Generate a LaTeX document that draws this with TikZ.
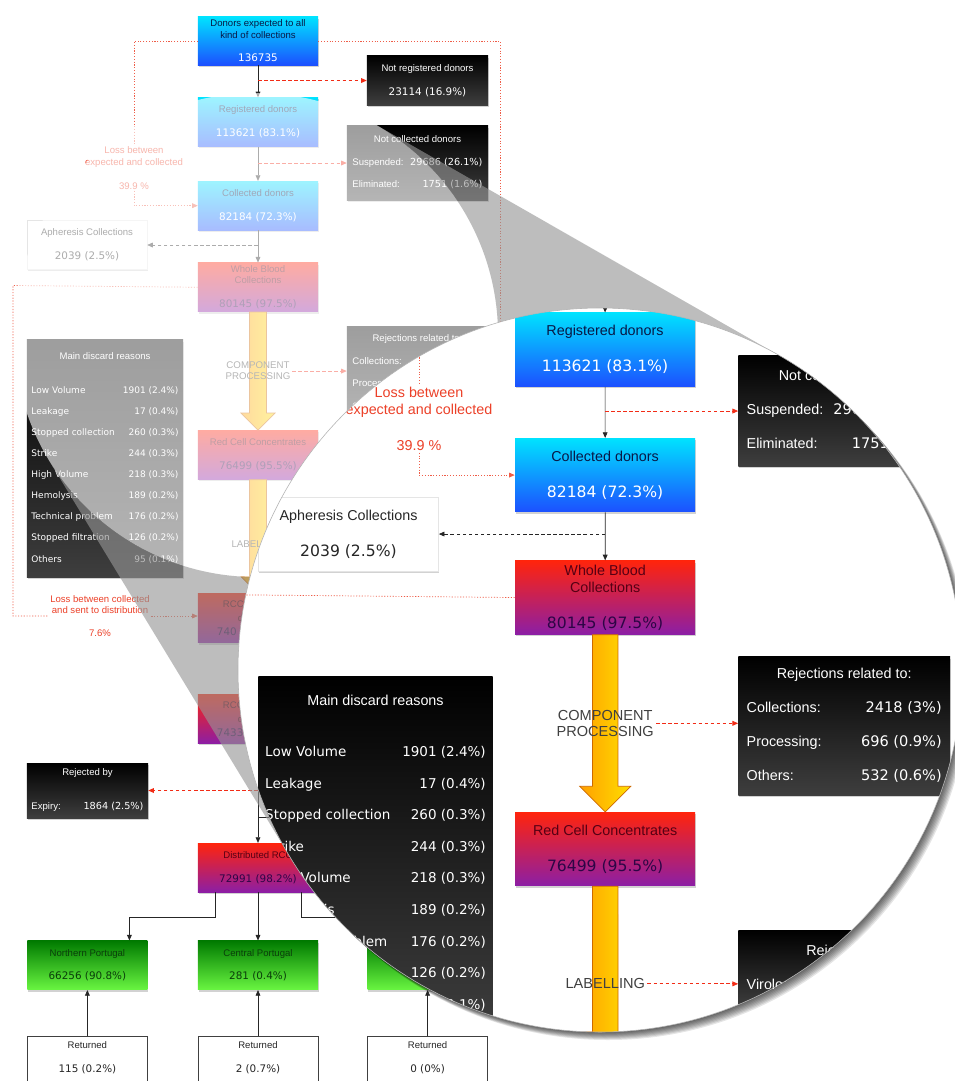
\documentclass[tikz,border=0pt]{standalone}
\usepackage{fontspec}
\newfontfamily\labfont{Liberation Sans}
\newfontfamily\numfont{DejaVu Sans}
\usetikzlibrary{positioning,calc,shadows,arrows.meta}

\definecolor{boxcyan}{RGB}{0,226,255}
\definecolor{boxblue}{RGB}{28,80,255}
\definecolor{boxnavy}{RGB}{8,24,70}
\definecolor{boxred}{RGB}{255,36,12}
\definecolor{boxpurple}{RGB}{140,30,165}
\definecolor{boxwine}{RGB}{85,0,20}
\definecolor{boxplum}{RGB}{45,5,70}
\definecolor{greentop}{RGB}{0,122,0}
\definecolor{greenbot}{RGB}{105,245,65}
\definecolor{greentext}{RGB}{10,62,10}
\definecolor{blackbot}{RGB}{62,62,62}
\definecolor{lossred}{RGB}{236,64,40}
\definecolor{rejred}{RGB}{242,44,22}
\definecolor{arroworange}{RGB}{255,160,0}
\definecolor{arrowyellow}{RGB}{255,222,0}
\definecolor{arrowedge}{RGB}{205,105,0}
\definecolor{conegray}{RGB}{150,150,150}

\colorlet{numcol}{black}
\newcommand{\boxnum}[1]{{\numfont\fontsize{7.4}{8}\selectfont\color{numcol}#1}}
\newcommand{\tabnum}[1]{{\numfont\fontsize{6.9}{8}\selectfont\color{numcol}#1}}
\newcommand{\discrow}[2]{{\numfont\fontsize{6.4}{8}\selectfont #1} & {\numfont\fontsize{6.4}{8}\selectfont #2}}

\tikzset{
	flowbox/.style={rectangle, minimum width=3cm, minimum height=1.225cm, inner sep=1pt, align=center, font=\labfont\fontsize{6.8}{8}\selectfont, drop shadow={opacity=0.35, shadow xshift=0.5pt, shadow yshift=-1.3pt}},
	bluebox/.style={flowbox, top color=boxcyan, bottom color=boxblue, text=boxnavy, execute at begin node=\colorlet{numcol}{white}},
	redbox/.style={flowbox, top color=boxred, bottom color=boxpurple, text=boxwine, execute at begin node=\colorlet{numcol}{boxplum}},
	greenbox/.style={flowbox, top color=greentop, bottom color=greenbot, text=greentext, execute at begin node=\colorlet{numcol}{greentext}},
	blackbox/.style={flowbox, top color=black, bottom color=blackbot, text=white, execute at begin node=\colorlet{numcol}{white}},
	whitebox/.style={flowbox, fill=white, draw=black!10, line width=0.3pt, text=black!85, execute at begin node=\colorlet{numcol}{black!85}},
	returnbox/.style={rectangle, draw=black!75, fill=white, line width=0.5pt, minimum width=3cm, minimum height=1.4cm, inner sep=1pt, align=center, font=\labfont\fontsize{6.8}{8}\selectfont, text=black!85, execute at begin node=\colorlet{numcol}{black!85}},
	losstext/.style={align=center, text=lossred, font=\labfont\fontsize{6.8}{8}\selectfont, inner sep=1pt},
	steplabel/.style={align=center, text=black!75, font=\labfont\fontsize{6.9}{7.8}\selectfont, inner sep=1pt},
	flowline/.style={draw=black!85, line width=0.5pt, -{Triangle[length=4pt, width=3.4pt]}},
	stubline/.style={draw=black!85, line width=0.5pt},
	rejline/.style={draw=rejred, line width=0.55pt, dash pattern=on 2.5pt off 1.8pt, -{Triangle[length=4pt, width=3.4pt]}},
	apherline/.style={rejline, draw=black!85},
	lossline/.style={draw=lossred!85, line width=0.5pt, dash pattern=on 0.8pt off 1.2pt},
	lossarrow/.style={lossline, -{Triangle[length=4pt, width=3.4pt]}},
	bigarrow/.style={draw=arrowedge, line width=0.5pt, left color=arroworange, right color=arrowyellow},
}

\newcommand{\flowchart}[1]{%
	\node[bluebox, minimum height=1.2cm] (#1donors) at (258,41) {Donors expected to all\\kind of collections\\[9pt]\boxnum{136735}};
	\node[bluebox, below=0.8cm of #1donors] (#1reg) {Registered donors\\[9pt]\boxnum{113621 (83.1\%)}};
	\node[bluebox, below=0.85cm of #1reg] (#1col) {Collected donors\\[9pt]\boxnum{82184 (72.3\%)}};
	\node[redbox, below=0.8cm of #1col] (#1whole) {Whole Blood\\Collections\\[9pt]\boxnum{80145 (97.5\%)}};
	\node[redbox, below=2.95cm of #1whole] (#1redcell) {Red Cell Concentrates\\[9pt]\boxnum{76499 (95.5\%)}};
	\node[redbox, below=2.85cm of #1redcell] (#1rcca) {\makebox[1.75cm][l]{RCC}\\[2pt]\makebox[1cm][l]{d}\\[2pt]\makebox[2.05cm][l]{\boxnum{740}}};
	\node[redbox, below=1.275cm of #1rcca] (#1rccb) {\makebox[1.75cm][l]{RCC}\\[2pt]\makebox[1cm][l]{d}\\[2pt]\makebox[2.05cm][l]{\boxnum{7433}}};
	\node[redbox, below=2.475cm of #1rccb] (#1distrib) {Distributed RCC\\[9pt]\boxnum{72991 (98.2\%)}};
	\node[greenbox, below=1.2cm of #1distrib] (#1central) {Central Portugal\\[9pt]\boxnum{281 (0.4\%)}};
	\node[greenbox, left=1.25cm of #1central] (#1north) {Northern Portugal\\[9pt]\boxnum{66256 (90.8\%)}};
	\node[greenbox, right=1.225cm of #1central] (#1south) {};
	\node[returnbox, below=1.15cm of #1north] (#1retnorth) {Returned\\[9pt]\boxnum{115 (0.2\%)}\\[2pt]\mbox{}};
	\node[returnbox, below=1.15cm of #1central] (#1retcentral) {Returned\\[9pt]\boxnum{2 (0.7\%)}\\[2pt]\mbox{}};
	\node[returnbox, below=1.15cm of #1south] (#1retsouth) {Returned\\[9pt]\boxnum{0 (0\%)}\\[2pt]\mbox{}};
	%
	\node[blackbox, minimum width=3.025cm] (#1notreg) at (427.5,80.5) {Not registered donors\\[9pt]\boxnum{23114 (16.9\%)}};
	\node[blackbox, minimum width=3.525cm, minimum height=1.85cm] (#1notcol) at (417.5,163) {\begin{tabular*}{3.25cm}{@{}l@{\extracolsep{\fill}}r@{}}\multicolumn{2}{c}{Not collected donors}\\[8pt]Suspended: & \tabnum{29686 (26.1\%)}\\[8pt]Eliminated: & \tabnum{1751 (1.6\%)}\end{tabular*}};
	\node[whitebox] (#1apher) at (87,245) {Apheresis Collections\\[9pt]\boxnum{2039 (2.5\%)}};
	\node[blackbox, minimum width=3.525cm, minimum height=2.3cm] (#1rejrel) at (417.5,373) {\begin{tabular*}{3.25cm}{@{}l@{\extracolsep{\fill}}r@{}}\multicolumn{2}{c}{Rejections related to:}\\[8pt]Collections: & \tabnum{2418 (3\%)}\\[8pt]Processing: & \tabnum{696 (0.9\%)}\\[8pt]Others: & \tabnum{532 (0.6\%)}\end{tabular*}};
	\node[blackbox, minimum width=3.9cm, minimum height=5.925cm] (#1discard) at (105,458.5) {\begin{tabular*}{3.675cm}{@{}l@{\extracolsep{\fill}}r@{}}\multicolumn{2}{c}{Main discard reasons}\\[16pt]\discrow{Low Volume}{1901 (2.4\%)}\\[7pt]\discrow{Leakage}{17 (0.4\%)}\\[7pt]\discrow{Stopped collection}{260 (0.3\%)}\\[7pt]\discrow{Strike}{244 (0.3\%)}\\[7pt]\discrow{High Volume}{218 (0.3\%)}\\[7pt]\discrow{Hemolysis}{189 (0.2\%)}\\[7pt]\discrow{Technical problem}{176 (0.2\%)}\\[7pt]\discrow{Stopped filtration}{126 (0.2\%)}\\[7pt]\discrow{Others}{95 (0.1\%)}\end{tabular*}};
	\node[blackbox, minimum width=3.525cm, minimum height=1.3cm] (#1rejlab) at (417.5,535) {\begin{tabular*}{3.25cm}{@{}l@{\extracolsep{\fill}}r@{}}\multicolumn{2}{c}{Rejected by}\\[8pt]Virology: & \end{tabular*}};
	\node[blackbox, minimum width=3.025cm, minimum height=1.375cm] (#1rejexp) at (87.5,790.5) {\begin{tabular*}{2.8cm}{@{}l@{\extracolsep{\fill}}r@{}}\multicolumn{2}{c}{Rejected by}\\[16pt]Expiry: & \tabnum{1864 (2.5\%)}\end{tabular*}};
	\node[losstext] (#1lossa) at (134,168) {Loss between\\expected and collected\\[9pt]39.9 \%};
	\node[losstext] (#1lossb) at (100,616) {Loss between collected\\and sent to distribution\\[8pt]7.6\%};
	\coordinate (#1lossturn) at (13,285.5);
	\coordinate (#1lossend) at (500,720);
	\coordinate (#1stub) at (330,817);
	%
	\draw[flowline] (#1donors) -- (#1reg);
	\draw[flowline] (#1reg) -- (#1col);
	\draw[flowline] (#1col) -- (#1whole);
	\draw[flowline] (#1rcca) -- (#1rccb);
	\draw[flowline] (#1rccb) -- (#1distrib);
	\draw[stubline] (#1stub) -- (#1stub -| #1distrib);
	\draw[flowline] (#1distrib) -- (#1central);
	\draw[flowline] ($(#1distrib.south)+(-43,0)$) -- ++(0,25) -| ($(#1north.north)+(42,0)$);
	\draw[flowline] ($(#1distrib.south)+(43,0)$) -- ++(0,25) -| ($(#1south.north)+(-42,0)$);
	\draw[flowline] (#1retnorth) -- (#1north);
	\draw[flowline] (#1retcentral) -- (#1central);
	\draw[flowline] (#1retsouth) -- (#1south);
	\draw[rejline] (#1notreg.west -| #1reg) -- (#1notreg.west);
	\draw[rejline] (#1notcol.west -| #1reg) -- (#1notcol.west);
	\draw[apherline] (#1apher.east -| #1col) -- (#1apher.east);
	\draw[rejline] (#1rejexp.east -| #1distrib) -- (#1rejexp.east);
	\draw[lossline] (#1donors.west) -| (#1lossa.north);
	\draw[lossarrow] (#1lossa.south) |- (#1col.west);
	\draw[lossline] (#1donors.east) -| (#1lossend);
	\draw[lossline] (#1whole.west) -- (#1lossturn) |- (#1lossb.west);
	\draw[lossarrow] (#1lossb.east) -- (#1lossb.east -| #1rcca.west);
	\draw[bigarrow] ($(#1whole.south)+(-8.5,0)$) -- ($(#1redcell.north)+(-8.5,-17)$) -- ($(#1redcell.north)+(-17,-17)$) -- (#1redcell.north) -- ($(#1redcell.north)+(17,-17)$) -- ($(#1redcell.north)+(8.5,-17)$) -- ($(#1whole.south)+(8.5,0)$) -- cycle;
	\draw[bigarrow] ($(#1redcell.south)+(-8.5,0)$) -- ($(#1rcca.north)+(-8.5,-17)$) -- ($(#1rcca.north)+(-17,-17)$) -- (#1rcca.north) -- ($(#1rcca.north)+(17,-17)$) -- ($(#1rcca.north)+(8.5,-17)$) -- ($(#1redcell.south)+(8.5,0)$) -- cycle;
	\node[steplabel] (#1proc) at ($(#1whole.south)!0.5!(#1redcell.north)$) {COMPONENT\\PROCESSING};
	\node[steplabel] (#1lab) at ($(#1redcell.south)!0.57!(#1rcca.north)$) {LABELLING};
	\draw[rejline] (#1proc.east) -- (#1proc.east -| #1rejrel.west);
	\draw[rejline] (#1lab.east) -- (#1lab.east -| #1rejlab.west);
}

\begin{document}
\begin{tikzpicture}[x=0.025cm, y=-0.025cm]
	\useasboundingbox (0,0) rectangle (955,1081);
	\fill[white] (0,0) rectangle (955,1081);
	\flowchart{s}
	\coordinate (lensS) at (256,335);
	\coordinate (lensC) at (600,670);
	\coordinate (coneA) at (376.2,125);
	\coordinate (coneB) at (779.8,355.8);
	\coordinate (coneC) at (290.7,858);
	\coordinate (coneD) at (49.2,460.7);
	\fill[white, opacity=0.62] (lensS) circle (242);
	\fill[conegray, opacity=0.62] (coneA) -- (coneB) -- (coneC) -- (coneD) arc[start angle=148.71, end angle=-60.23, radius=242] -- cycle;
	\foreach \k in {1,...,8}
		\fill[black, opacity=0.1] ($(lensC)+(\k,\k)$) circle (362);
	\fill[white] (lensC) circle (362);
	\begin{scope}
		\clip (lensC) circle (362);
		\begin{scope}[shift={(218,166.5)}, scale=1.5, transform shape]
			\flowchart{m}
		\end{scope}
	\end{scope}
	\draw[black!30, line width=0.4pt] (lensC) circle (362);
\end{tikzpicture}
\end{document}
